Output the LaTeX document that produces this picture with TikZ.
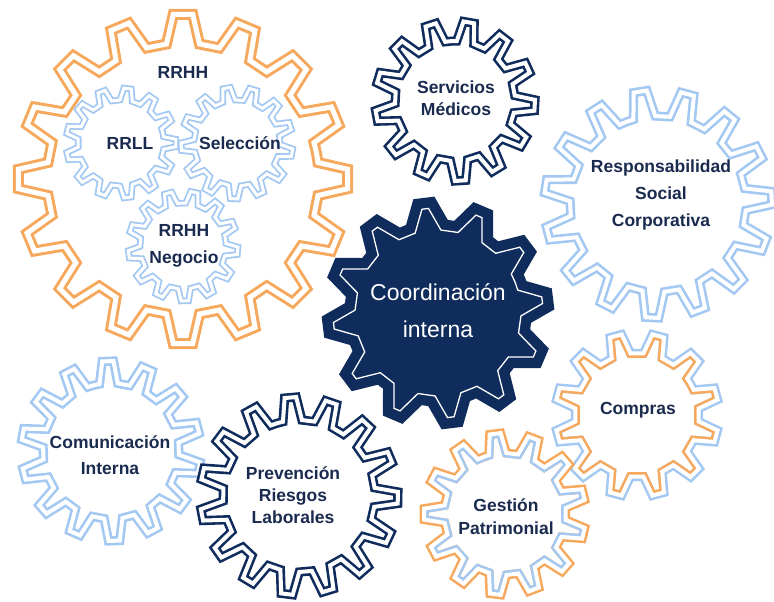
\documentclass[tikz,border=0pt]{standalone}
\usepackage{fontspec}
\setmainfont{Liberation Sans}
\usetikzlibrary{calc}
\definecolor{gorange}{HTML}{F6A85C}
\definecolor{gblue}{HTML}{A3C8F2}
\definecolor{gnavy}{HTML}{0F2C5C}
\definecolor{tnavy}{HTML}{1A2B4F}
% #1 cx, #2 cy, #3 teeth, #4 tip radius, #5 root radius, #6 rotation, #7 tip half-width, #8 base half-width (fractions of pitch)
\newcommand\gearp[8]{%
  ($(#1,#2)+({#6-180/#3}:#5)$)
  \foreach \k in {1,...,#3}{
    -- ($(#1,#2)+({#6+(\k-1)*360/#3-#8*360/#3}:#5)$)
    -- ($(#1,#2)+({#6+(\k-1)*360/#3-#7*360/#3}:#4)$)
    -- ($(#1,#2)+({#6+(\k-1)*360/#3+#7*360/#3}:#4)$)
    -- ($(#1,#2)+({#6+(\k-1)*360/#3+#8*360/#3}:#5)$)
  } -- cycle}
\tikzset{
  lbl/.style={text=tnavy, align=center, inner sep=0pt},
  dblorange/.style={draw=gorange, line width=3pt, double=white, double distance=5pt},
  dblbluebig/.style={draw=gblue, line width=2.6pt, double=white, double distance=4pt},
  dblbluesmall/.style={draw=gblue, line width=1.8pt, double=white, double distance=3pt},
  dblnavy/.style={draw=gnavy, line width=2.6pt, double=white, double distance=4pt},
}
\begin{document}
\begin{tikzpicture}[x=1pt,y=-1pt]
\useasboundingbox[fill=white] (0,0) rectangle (774,602);

% RRHH big gear
\draw[dblorange] \gearp{183}{179}{16}{165}{136}{0}{0.15}{0.31};
% inner blue gears
\draw[dblbluesmall] \gearp{121}{143}{13}{55}{43}{0}{0.14}{0.3};
\draw[dblbluesmall] \gearp{237}{143}{13}{56}{43}{10}{0.14}{0.3};
\draw[dblbluesmall] \gearp{183}{246}{13}{55}{43}{5}{0.14}{0.3};

% Servicios Medicos
\draw[dblnavy] \gearp{455}{101}{13}{80}{60}{-80}{0.14}{0.3};
% Responsabilidad
\draw[dblbluebig] \gearp{658}{204}{15}{114}{88}{-99}{0.14}{0.3};
% Comunicacion
\draw[dblbluebig] \gearp{111}{451}{14}{90}{68}{-92}{0.14}{0.3};
% Prevencion
\draw[dblnavy] \gearp{299}{496}{15}{99}{76}{-95}{0.14}{0.3};

% Compras (blue outside, orange inside)
\draw[gblue, line width=9pt] \gearp{637}{415}{12}{82}{62}{-15}{0.14}{0.3};
\begin{scope}
  \clip \gearp{637}{415}{12}{82}{62}{-15}{0.14}{0.3};
  \draw[gorange, line width=9pt] \gearp{637}{415}{12}{82}{62}{-15}{0.14}{0.3};
\end{scope}
\draw[white, line width=4pt] \gearp{637}{415}{12}{82}{62}{-15}{0.14}{0.3};

% Gestion (orange outside, blue inside)
\draw[gorange, line width=9pt] \gearp{505}{514}{13}{81}{61}{-97}{0.14}{0.3};
\begin{scope}
  \clip \gearp{505}{514}{13}{81}{61}{-97}{0.14}{0.3};
  \draw[gblue, line width=9pt] \gearp{505}{514}{13}{81}{61}{-97}{0.14}{0.3};
\end{scope}
\draw[white, line width=4pt] \gearp{505}{514}{13}{81}{61}{-97}{0.14}{0.3};

% Central gear
\fill[gnavy] \gearp{438}{313}{12}{105}{83}{-7}{0.06}{0.3};
\draw[gnavy, line width=22pt] \gearp{438}{313}{12}{105}{83}{-7}{0.06}{0.3};
\draw[white, line width=1.3pt] \gearp{438}{313}{12}{105}{83}{-7}{0.06}{0.3};

% labels
\node[lbl, font=\bfseries\fontsize{17.5}{27}\selectfont] (rrhh) at (183,72) {RRHH};
\node[lbl, font=\bfseries\fontsize{17.5}{27}\selectfont] (rrll) at (130,143) {RRLL};
\node[lbl, font=\bfseries\fontsize{17.5}{27}\selectfont] (sel) at (240,143) {Selección};
\node[lbl, font=\bfseries\fontsize{17.5}{27}\selectfont] (neg) at (184,246) {RRHH\\Negocio};
\node[lbl, font=\bfseries\fontsize{17.5}{22}\selectfont] (serv) at (456,98) {Servicios\\Médicos};
\node[lbl, text=white, font=\fontsize{23}{37}\selectfont] (coord) at (438,311) {Coordinación\\interna};
\node[lbl, font=\bfseries\fontsize{17.5}{27}\selectfont] (rsc) at (661,195) {Responsabilidad\\Social\\Corporativa};
\node[lbl, font=\bfseries\fontsize{17.5}{26}\selectfont] (com) at (110,455) {Comunicación\\Interna};
\node[lbl, font=\bfseries\fontsize{17.5}{22}\selectfont] (prev) at (293,495) {Prevención\\Riesgos\\Laborales};
\node[lbl, font=\bfseries\fontsize{17.5}{27}\selectfont] (comp) at (638,410) {Compras};
\node[lbl, font=\bfseries\fontsize{17.5}{23}\selectfont] (gest) at (506,517) {Gestión\\Patrimonial};
\end{tikzpicture}
\end{document}
